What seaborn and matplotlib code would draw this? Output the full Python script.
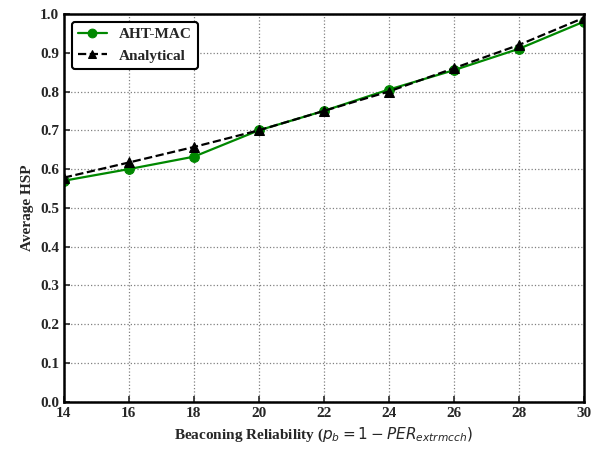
import matplotlib
matplotlib.use("Agg")
import matplotlib.pyplot as plt
import seaborn as sns
import pandas as pd

x_vals = [14, 16, 18, 20, 22, 24, 26, 28, 30]
aht_mac = [0.57, 0.60, 0.632, 0.70, 0.75, 0.805, 0.855, 0.91, 0.98]
analytical = [0.578, 0.617, 0.657, 0.70, 0.75, 0.80, 0.86, 0.92, 0.99]
x_ticks = [14, 16, 18, 20, 22, 24, 26, 28, 30]
y_ticks = [0.0, 0.1, 0.2, 0.3, 0.4, 0.5, 0.6, 0.7, 0.8, 0.9, 1.0]

sns.set_style("ticks")
plt.rcParams['font.family'] = ['Liberation Serif', 'DejaVu Serif']
plt.rcParams['font.weight'] = 'normal'
plt.rcParams['mathtext.fontset'] = 'dejavusans'

df = pd.DataFrame({"x": x_vals, "AHT-MAC": aht_mac, "Analytical": analytical})

fig = plt.figure(figsize=(5.97, 4.49), dpi=100)
ax = fig.add_axes([0.107, 0.105, 0.871, 0.864])

sns.lineplot(data=df, x="x", y="AHT-MAC", ax=ax, color="#008800", marker="o",
             markersize=7, linewidth=1.6, label="AHT-MAC", markeredgecolor="#008800")
sns.lineplot(data=df, x="x", y="Analytical", ax=ax, color="black", marker="^",
             markersize=7, linewidth=1.6, linestyle="--", label="Analytical",
             markeredgecolor="black")

ax.set_xlim(14, 30)
ax.set_ylim(0, 1.0)
ax.set_xticks(x_ticks)
ax.set_yticks(y_ticks)
ax.set_xticklabels([str(t) for t in x_ticks], fontweight='bold', fontsize=11)
ax.set_yticklabels([f"{t:.1f}" for t in y_ticks], fontweight='bold', fontsize=11)
ax.tick_params(direction='in', length=4, width=1.2)
ax.grid(True, linestyle=':', color='gray', linewidth=0.9)
for s in ax.spines.values():
    s.set_linewidth(1.8)
    s.set_color('black')

ax.set_xlabel(r'Beaconing Reliability ($p_b = 1 - PER_{extrmcch})$',
              fontweight='bold', fontsize=11)
ax.set_ylabel('Average HSP', fontweight='bold', fontsize=11)

leg = ax.legend(loc='upper left', fontsize=11, frameon=True, fancybox=True,
                edgecolor='black', framealpha=1, handlelength=1.9, markerscale=0.9)
leg.get_frame().set_linewidth(1.5)
for t in leg.get_texts():
    t.set_fontweight('bold')

fig.savefig("out.png", dpi=100)
